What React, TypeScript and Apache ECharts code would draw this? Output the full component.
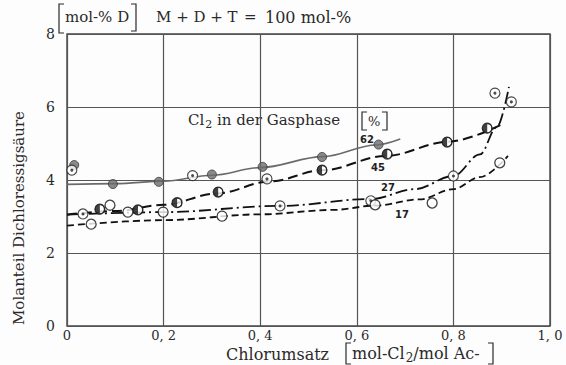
import React, { useEffect, useRef } from "react";
import * as echarts from "echarts";

// x: Chlorumsatz, y: mol-% D
const xTicks = [0, 0.2, 0.4, 0.6, 0.8, 1.0];
const yTicks = [0, 2, 4, 6, 8];
const seriesLabels = ["62", "45", "27", "17"];

// smooth curves
const curve62 = [[0, 3.88], [0.1, 3.9], [0.2, 3.97], [0.3, 4.13], [0.4, 4.34], [0.53, 4.64], [0.64, 4.96], [0.69, 5.12]];
const curve45 = [[0, 3.05], [0.1, 3.15], [0.2, 3.32], [0.31, 3.63], [0.42, 3.96], [0.53, 4.27], [0.66, 4.66], [0.79, 5.05], [0.9, 5.52]];
const curve27 = [[0, 3.05], [0.2, 3.12], [0.44, 3.29], [0.63, 3.48], [0.72, 3.75], [0.8, 4.11], [0.855, 4.7], [0.89, 5.45], [0.915, 6.55]];
const curve17 = [[0, 2.75], [0.2, 2.9], [0.4, 3.06], [0.55, 3.18], [0.64, 3.3], [0.73, 3.47], [0.8, 3.75], [0.855, 4.08], [0.913, 4.66]];

// measured points
const pts62 = [[0.015, 4.41], [0.095, 3.89], [0.19, 3.95], [0.3, 4.15], [0.405, 4.36], [0.528, 4.63], [0.645, 4.97]];
const pts45 = [[0.068, 3.2], [0.147, 3.18], [0.228, 3.38], [0.313, 3.67], [0.528, 4.27], [0.663, 4.71], [0.787, 5.04], [0.87, 5.42]];
const pts27 = [[0.01, 4.27], [0.033, 3.07], [0.26, 4.12], [0.414, 4.03], [0.441, 3.29], [0.629, 3.43], [0.8, 4.11], [0.886, 6.38], [0.92, 6.14]];
const pts17 = [[0.05, 2.79], [0.089, 3.31], [0.126, 3.12], [0.199, 3.12], [0.321, 3.01], [0.638, 3.32], [0.756, 3.37], [0.896, 4.47]];

const HALF =
  "path://M10,0A10,10 0 1,1 10,20A10,10 0 1,1 10,0Z M10,2A8,8 0 1,0 10,18A8,8 0 1,0 10,2Z M10,18A8,8 0 0,1 10,2Z";

const SERIF = "'DejaVu Serif', serif";
const INK = "#2a2a2a";

function fmtX(v: number) {
  if (v === 0) return "0";
  return v.toFixed(1).replace(".", ", ");
}

export default function App() {
  const ref = useRef<HTMLDivElement>(null);
  useEffect(() => {
    if (!ref.current) return;
    const chart = echarts.init(ref.current, null, { renderer: "svg" });
    const lineBase = { type: "line", showSymbol: false, smooth: 0.35, smoothMonotone: "x", silent: true, z: 2 };
    const bracket = (x: number, y1: number, y2: number, dir: number) => ({
      type: "polyline",
      shape: { points: [[x + dir * 5, y1], [x, y1], [x, y2], [x + dir * 5, y2]] },
      style: { stroke: INK, lineWidth: 1.2, fill: null },
    });
    const txt = (text: string, x: number, y: number, size: number, extra: any = {}) => ({
      type: "text",
      x,
      y,
      style: { text, font: `${size}px ${SERIF}`, fill: INK, verticalAlign: "middle", ...extra },
    });
    const num = (text: string, x: number, y: number) => ({
      type: "text",
      x,
      y,
      style: { text, font: "bold 10px 'DejaVu Sans'", fill: "#222", align: "center", verticalAlign: "middle" },
    });
    chart.setOption({
      animation: false,
      backgroundColor: "#fdfdfd",
      grid: { left: 67, right: 16, top: 34, bottom: 39, show: true, borderColor: "#444", borderWidth: 1.4 },
      xAxis: {
        type: "value",
        min: xTicks[0],
        max: xTicks[xTicks.length - 1],
        interval: 0.2,
        axisLine: { show: false },
        axisTick: { show: false },
        splitLine: { show: true, lineStyle: { color: "#555", width: 1.2 } },
        axisLabel: { formatter: (v: number) => fmtX(v), fontFamily: SERIF, fontSize: 13, color: INK, margin: 3 },
      },
      yAxis: {
        type: "value",
        min: yTicks[0],
        max: yTicks[yTicks.length - 1],
        interval: 2,
        axisLine: { show: false },
        axisTick: { show: false },
        splitLine: { show: true, lineStyle: { color: "#555", width: 1.2 } },
        axisLabel: { fontFamily: SERIF, fontSize: 14, color: INK, margin: 12 },
      },
      series: [
        { ...lineBase, name: seriesLabels[0], data: curve62, lineStyle: { color: "#6a6a6a", width: 1.6 } },
        { ...lineBase, name: seriesLabels[1], data: curve45, lineStyle: { color: "#111", width: 2, type: [10, 5] } },
        { ...lineBase, name: seriesLabels[2], data: curve27, lineStyle: { color: "#111", width: 1.8, type: [12, 4, 2, 4] } },
        { ...lineBase, name: seriesLabels[3], data: curve17, lineStyle: { color: "#111", width: 1.8, type: [7, 4] } },
        { type: "scatter", data: pts62, symbol: "circle", symbolSize: 9, itemStyle: { color: "#6c6c6c", borderColor: "#3a3a3a", borderWidth: 1 }, z: 5 },
        { type: "scatter", data: pts45, symbol: "circle", symbolSize: 10, itemStyle: { color: "#fff", borderColor: "#111", borderWidth: 1.2 }, z: 5 },
        { type: "scatter", data: pts45, symbol: HALF, symbolSize: 10, itemStyle: { color: "#111" }, z: 6 },
        { type: "scatter", data: pts27, symbol: "circle", symbolSize: 10, itemStyle: { color: "#fff", borderColor: "#222", borderWidth: 1.2 }, z: 5 },
        { type: "scatter", data: pts27, symbol: "circle", symbolSize: 3, itemStyle: { color: "#222" }, z: 6 },
        { type: "scatter", data: pts17, symbol: "circle", symbolSize: 10, itemStyle: { color: "#fff", borderColor: "#111", borderWidth: 1.3 }, z: 5 },
      ],
      graphic: [
        // header
        bracket(59, 4, 33, 1),
        bracket(136, 4, 31, -1),
        txt("mol-% D", 65, 17, 15),
        txt("M + D + T", 156, 17, 15),
        txt("=", 244, 17, 15),
        txt("100 mol-%", 265, 17, 16),
        // legend title
        txt("Cl{s|2} in der Gasphase", 188, 120, 15, {
          rich: { s: { fontSize: 11, fontFamily: SERIF, padding: [9, 0, 0, 1], fill: INK } },
        }),
        bracket(362, 112, 130, 1),
        bracket(387, 112, 130, -1),
        txt("%", 368, 121, 13),
        // series labels
        num(seriesLabels[0], 367, 139),
        num(seriesLabels[1], 378, 167),
        num(seriesLabels[2], 388, 187),
        num(seriesLabels[3], 402, 214),
        // x name
        txt("Chlorumsatz", 226, 354, 16),
        bracket(346, 343, 364, 1),
        bracket(493, 343, 364, -1),
        txt("mol-Cl{s|2}/mol Ac-", 352, 353, 16, {
          rich: { s: { fontSize: 12, fontFamily: SERIF, padding: [10, 0, 0, 1], fill: INK } },
        }),
        // y name
        {
          type: "text",
          x: 19,
          y: 218,
          rotation: Math.PI / 2,
          style: {
            text: "Molanteil Dichloressigsäure",
            font: `15px ${SERIF}`,
            fill: INK,
            align: "center",
            verticalAlign: "middle",
          },
        },
      ],
    });
    return () => chart.dispose();
  }, []);
  return <div ref={ref} style={{ position: "absolute", left: 0, top: 0, width: 566, height: 365 }} />;
}
